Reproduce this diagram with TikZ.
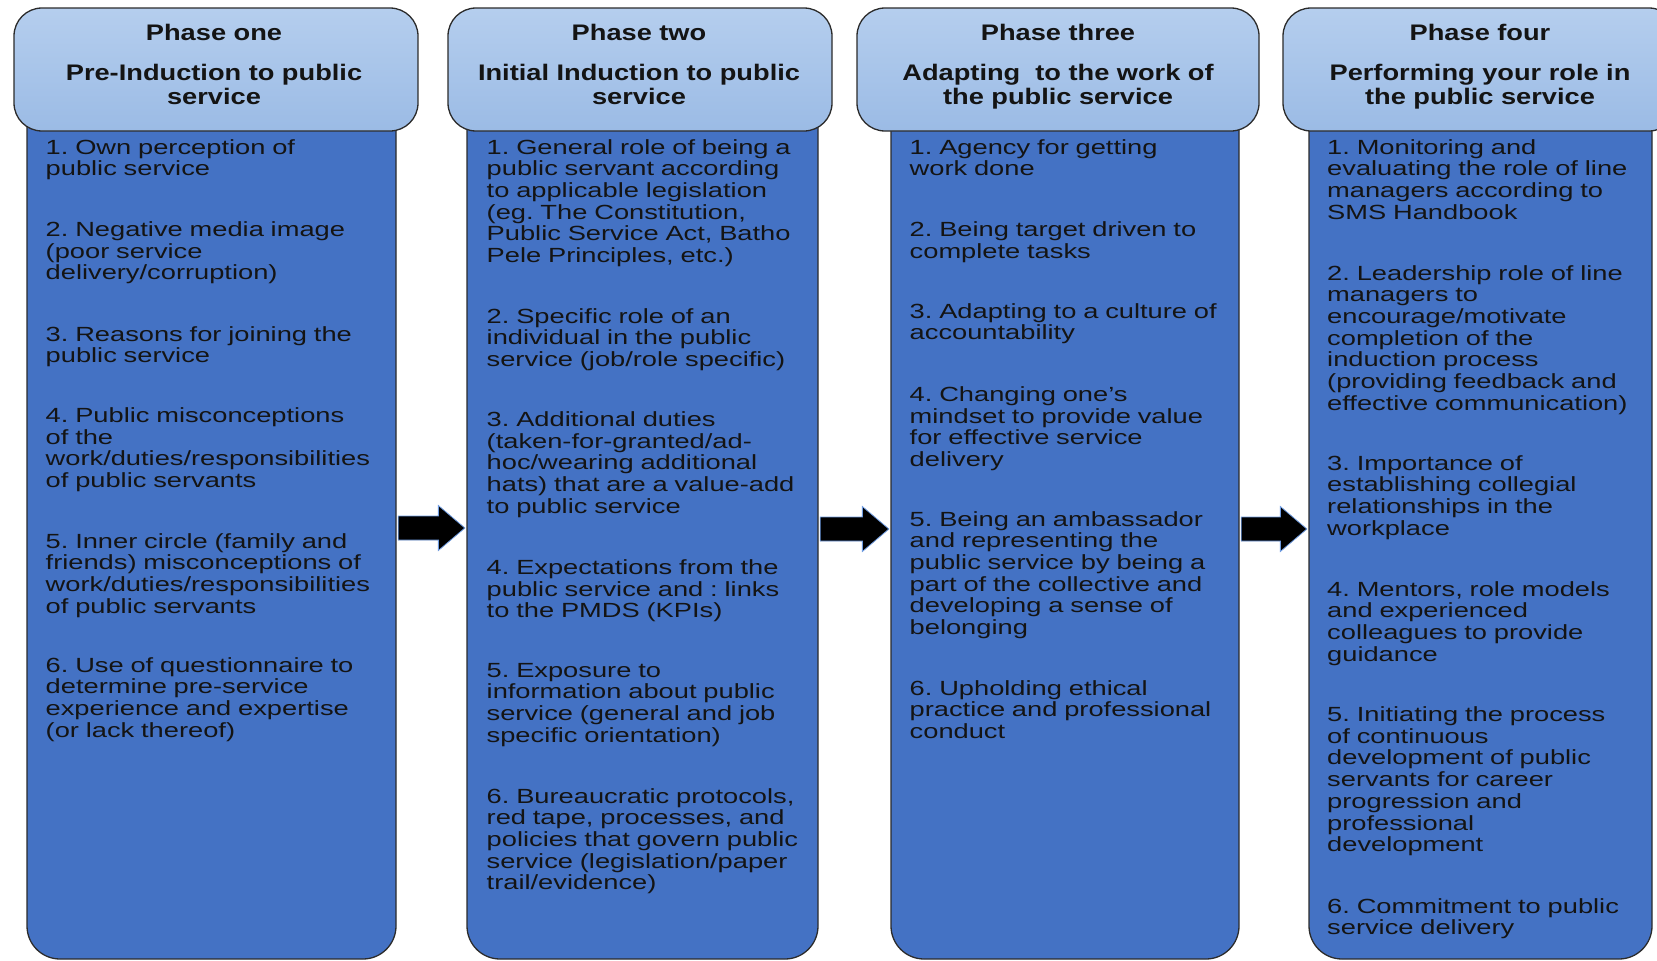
\documentclass[tikz,border=0pt]{standalone}
\usepackage{fontspec}
\newfontfamily\bodyfont[FakeStretch=1.33]{Liberation Sans}
\newfontfamily\headfont[FakeStretch=1.21]{Liberation Sans Bold}
\usetikzlibrary{calc}
\definecolor{bodyblue}{HTML}{4472C4}
\definecolor{headtop}{HTML}{B5CEEE}
\definecolor{headbot}{HTML}{9BBBE5}
\definecolor{edge}{HTML}{2B2B2B}
\definecolor{ink}{HTML}{141414}
\definecolor{glow}{HTML}{6E9BE0}
\frenchspacing
\begin{document}
\begin{tikzpicture}[x=1pt,y=-1pt,
  bodybox/.style={draw=edge, line width=1.3pt, fill=bodyblue, rounded corners=33pt,
    minimum width=#1, minimum height=869pt, inner sep=0pt},
  headbox/.style={draw=edge, line width=1.3pt, top color=headtop, bottom color=headbot,
    rounded corners=28pt, minimum width=#1, minimum height=123pt, inner sep=0pt},
  headtext/.style={anchor=base, inner sep=0pt, text width=420pt, align=center, text=ink,
    font=\headfont\frenchspacing\fontsize{22.5pt}{24pt}\selectfont},
  item/.style={anchor=base west, inner sep=0pt, text width=400pt, align=left, text=ink,
    font=\bodyfont\frenchspacing\fontsize{20.5pt}{21.7pt}\selectfont},
  blockarrow/.style={fill=black, draw=glow, line width=0.8pt}
]
\useasboundingbox (0,0) rectangle (1657,961);
\clip (0,0) rectangle (1657,961);

% bodies
\node[bodybox=369pt] (b1) at (211.5,524.5) {};
\node[bodybox=351pt] (b2) at (642.5,524.5) {};
\node[bodybox=348pt] (b3) at (1065,524.5) {};
\node[bodybox=343pt] (b4) at (1480.5,524.5) {};

% headers
\node[headbox=404pt] (h1) at (216,69.5) {};
\node[headbox=384pt] (h2) at (640,69.5) {};
\node[headbox=402pt] (h3) at (1058,69.5) {};
\node[headbox=394pt] (h4) at (1480,69.5) {};

\node[headtext] (t1) at (214,40) {Phase one\\[16pt]Pre-Induction to public\\service};
\node[headtext] (t2) at (639,40) {Phase two\\[16pt]Initial Induction to public\\service};
\node[headtext] (t3) at (1058,40) {Phase three\\[16pt]Adapting\ \ to the work of\\the public service};
\node[headtext] (t4) at (1480,40) {Phase four\\[16pt]Performing your role in\\the public service};

% arrows
\coordinate (a1s) at (b1.east |- 0,528);
\coordinate (a1e) at (b2.west |- 0,528);
\coordinate (a2s) at (b2.east |- 0,529);
\coordinate (a2e) at (b3.west |- 0,529);
\coordinate (a3s) at (b3.east |- 0,529);
\coordinate (a3e) at (b4.west |- 0,529);
\foreach \s/\e in {a1s/a1e, a2s/a2e, a3s/a3e}{
  \filldraw[blockarrow] let \p1=(\s), \p2=(\e) in
    (\x1+1.5pt,\y1+12pt) -- (\x2-28pt,\y1+12pt) -- (\x2-28pt,\y1+22.5pt) --
    (\x2-1.5pt,\y1) -- (\x2-28pt,\y1-22.5pt) -- (\x2-28pt,\y1-12pt) --
    (\x1+1.5pt,\y1-12pt) -- cycle;
}

% column 1
\node[item] (c1i1) at (45.5,154) {1. Own perception of\\public service};
\node[item] (c1i2) at (45.5,236.5) {2. Negative media image\\(poor service\\delivery/corruption)};
\node[item] (c1i3) at (45.5,341) {3. Reasons for joining the\\public service};
\node[item] (c1i4) at (45.5,422.5) {4. Public misconceptions\\of the\\work/duties/responsibilities\\of public servants};
\node[item] (c1i5) at (45.5,548) {5. Inner circle (family and\\friends) misconceptions of\\work/duties/responsibilities\\of public servants};
\node[item] (c1i6) at (45.5,672) {6. Use of questionnaire to\\determine pre-service\\experience and expertise\\(or lack thereof)};

% column 2
\node[item] (c2i1) at (486.5,154) {1. General role of being a\\public servant according\\to applicable legislation\\(eg. The Constitution,\\Public Service Act, Batho\\Pele Principles, etc.)};
\node[item] (c2i2) at (486.5,323) {2. Specific role of an\\individual in the public\\service (job/role specific)};
\node[item] (c2i3) at (486.5,426.5) {3. Additional duties\\(taken-for-granted/ad-\\hoc/wearing additional\\hats) that are a value-add\\to public service};
\node[item] (c2i4) at (486.5,574.5) {4. Expectations from the\\public service and : links\\to the PMDS (KPIs)};
\node[item] (c2i5) at (486.5,677) {5. Exposure to\\information about public\\service (general and job\\specific orientation)};
\node[item] (c2i6) at (486.5,803) {6. Bureaucratic protocols,\\red tape, processes, and\\policies that govern public\\service (legislation/paper\\trail/evidence)};

% column 3
\node[item] (c3i1) at (909.5,154) {1. Agency for getting\\work done};
\node[item] (c3i2) at (909.5,236.5) {2. Being target driven to\\complete tasks};
\node[item] (c3i3) at (909.5,318) {3. Adapting to a culture of\\accountability};
\node[item] (c3i4) at (909.5,401.5) {4. Changing one’s\\mindset to provide value\\for effective service\\delivery};
\node[item] (c3i5) at (909.5,526) {5. Being an ambassador\\and representing the\\public service by being a\\part of the collective and\\developing a sense of\\belonging};
\node[item] (c3i6) at (909.5,695) {6. Upholding ethical\\practice and professional\\conduct};

% column 4
\node[item] (c4i1) at (1327,154) {1. Monitoring and\\evaluating the role of line\\managers according to\\SMS Handbook};
\node[item] (c4i2) at (1327,280) {2. Leadership role of line\\managers to\\encourage/motivate\\completion of the\\induction process\\(providing feedback and\\effective communication)};
\node[item] (c4i3) at (1327,470) {3. Importance of\\establishing collegial\\relationships in the\\workplace};
\node[item] (c4i4) at (1327,596) {4. Mentors, role models\\and experienced\\colleagues to provide\\guidance};
\node[item] (c4i5) at (1327,721.5) {5. Initiating the process\\of continuous\\development of public\\servants for career\\progression and\\professional\\development};
\node[item] (c4i6) at (1327,913) {6. Commitment to public\\service delivery};
\end{tikzpicture}
\end{document}
